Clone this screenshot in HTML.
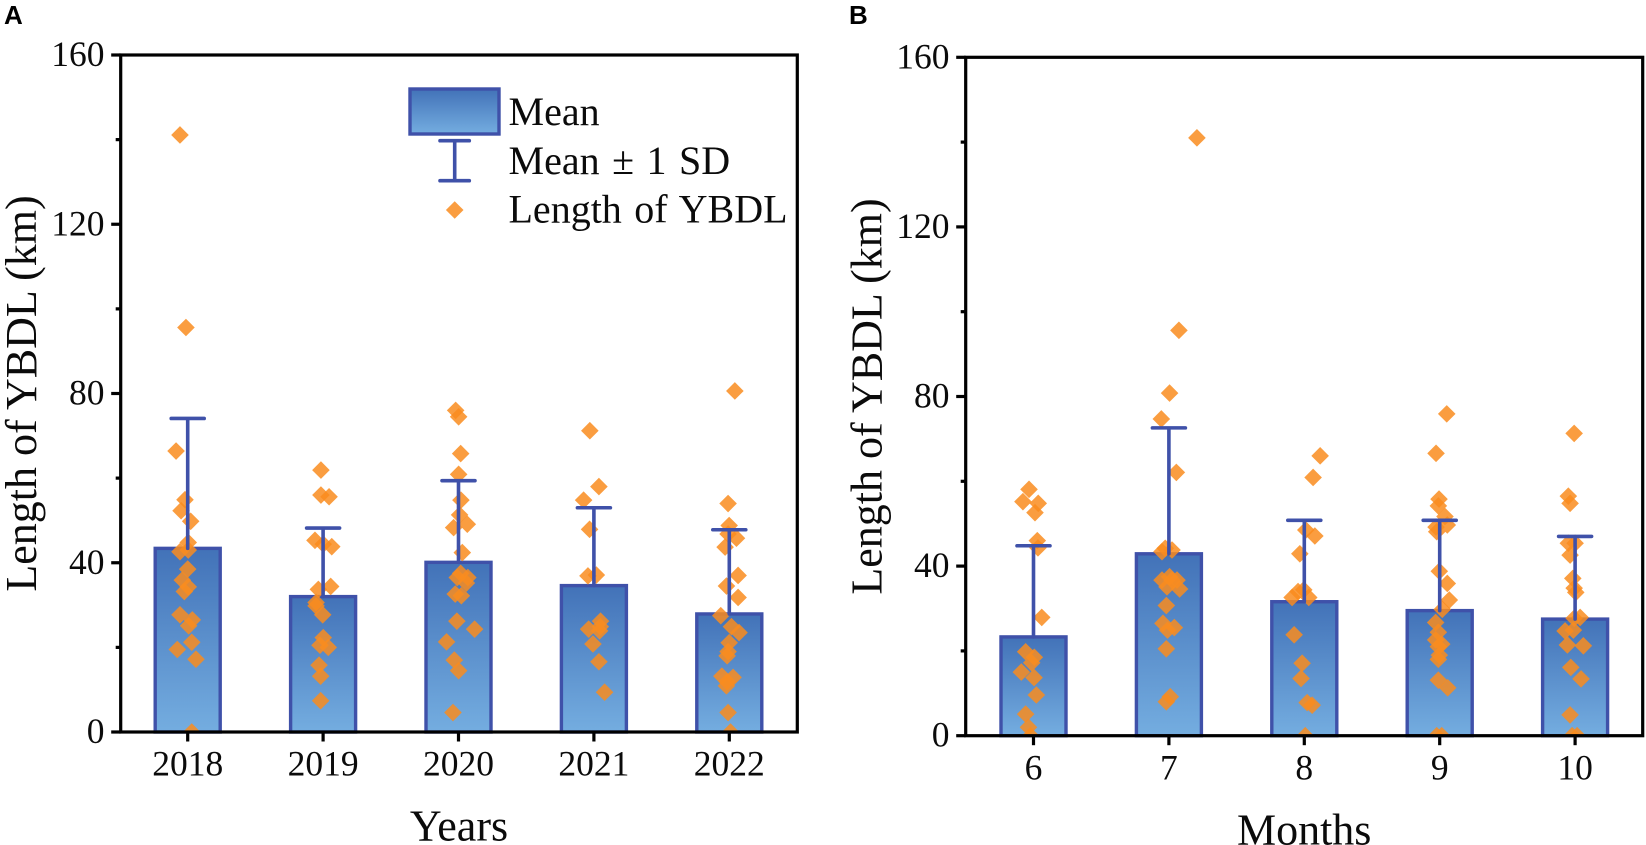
<!DOCTYPE html>
<html lang="en">
<head>
<meta charset="utf-8">
<title>Length of YBDL by year and month</title>
<style>
html,body{margin:0;padding:0;background:#fff;width:1646px;height:845px;overflow:hidden}
svg{display:block}
text{font-family:"Liberation Serif","Times New Roman",serif;fill:#0b0b0b}
.panel-letter{font-family:"Liberation Sans",Arial,sans-serif;font-weight:700;font-size:26px;fill:#000}
.tick{font-size:35.5px}
.title{font-size:44px}
.legend-text{font-size:40px;word-spacing:2.5px}
</style>
</head>
<body>
<svg id="chart" xmlns="http://www.w3.org/2000/svg" width="1646" height="845" viewBox="0 0 1646 845">
  <defs>
    <linearGradient id="barFill" x1="0" y1="0" x2="0" y2="1">
      <stop offset="0" stop-color="#4272b8"/>
      <stop offset="1" stop-color="#74ade0"/>
    </linearGradient>
    <clipPath id="clipA"><rect x="120.7" y="55" width="676.6" height="677"/></clipPath>
    <clipPath id="clipB"><rect x="965.7" y="57.3" width="677" height="678.4"/></clipPath>
  </defs>
  <text class="panel-letter" x="4" y="24">A</text>
  <text class="panel-letter" x="849" y="24">B</text>
  <g id="panelA"></g>
  <g id="panelB"></g>
  <g id="legend">
    <g>
      <rect x="410" y="89" width="89" height="45" fill="url(#barFill)" stroke="#3f51a9" stroke-width="3.4"/>
      <text class="legend-text" x="508.5" y="125">Mean</text>
    </g>
    <g>
      <path d="M440 140.7H469.3M454.7 140.7V180.7M440 180.7H469.3" fill="none" stroke="#3f51a9" stroke-width="3.6" stroke-linecap="round"/>
      <text class="legend-text" x="508.5" y="174">Mean ± 1 SD</text>
    </g>
    <g>
      <polygon points="454.7,201.2 463.5,210 454.7,218.8 445.9,210" fill="#f98c1f" fill-opacity="0.85"/>
      <text class="legend-text" x="508.5" y="222.7">Length of YBDL</text>
    </g>
  </g>
</svg>
<script>
const yTickLabels = [0, 40, 80, 120, 160];
const yMinorTicks = [20, 60, 100, 140];

const yearCategories = ['2018', '2019', '2020', '2021', '2022'];
const yearMeans = [43.4, 32.0, 40.1, 34.6, 27.9];
const yearUpperSD = [74.1, 48.2, 59.4, 53.0, 47.8];
const yearValues = [
  [141.1,95.6,66.4,54.9,52.3,49.8,44.8,42.6,43.0,38.5,35.9,34.3,33.2,27.7,26.5,25.1,21.2,19.5,17.2,0],
  [61.9,56.0,55.6,45.3,44.4,43.8,33.7,34.4,30.6,29.8,27.7,22.3,20.5,20.0,15.8,13.2,7.4],
  [76.0,74.5,65.8,60.9,54.8,51.3,49.1,48.3,42.4,37.5,36.5,36.5,35.2,32.6,32.2,26.2,24.3,21.3,17.0,14.5,4.6],
  [71.2,58.0,54.8,47.9,36.9,37.1,26.2,24.3,24.9,23.9,20.8,16.6,9.4],
  [80.6,54.0,48.8,46.8,45.8,43.7,37.0,34.5,31.8,27.5,24.9,23.5,21.1,19.0,18.0,13.2,12.9,11.9,10.9,4.6,0]
];
const yearJitter = [
  [-.057,-.013,-.086,-.02,-.049,.022,.004,-.057,.004,0,-.04,.004,-.025,-.057,.034,.007,.03,-.077,.061,.03],
  [-.016,-.016,.044,-.06,.001,.064,-.035,.056,-.052,-.052,-.003,.001,-.023,.038,-.03,-.018,-.018],
  [-.021,.001,.016,.001,.018,.008,.065,-.036,.028,.016,.069,-.009,.058,-.024,.021,-.012,.119,-.088,-.031,.001,-.041],
  [-.03,.037,-.076,-.032,-.044,.018,.049,-.039,.047,.042,-.007,.037,.079],
  [.041,-.009,-.001,-.009,.053,-.031,.065,-.021,.065,-.063,.016,.072,-.001,-.009,-.016,-.055,.028,-.016,-.021,-.009,.009]
];

const monthCategories = ['6', '7', '8', '9', '10'];
const monthMeans = [23.3, 42.9, 31.6, 29.5, 27.5];
const monthUpperSD = [44.8, 72.6, 50.8, 50.8, 47.0];
const monthValues = [
  [58.1,55.2,54.8,52.6,46.0,44.3,27.9,19.8,18.5,17.2,15.0,13.7,9.6,5.1,2.0,0],
  [141.0,95.6,80.8,74.7,62.1,43.4,44.2,43.8,36.7,37.5,36.7,35.1,36.7,34.6,30.7,26.5,25.5,24.9,20.5,9.2,8.0],
  [66.0,60.9,48.5,47.1,42.9,34.4,32.6,34.0,32.6,23.8,17.1,13.5,7.8,7.2,0],
  [75.9,66.6,55.8,54.2,51.7,49.7,49.2,48.1,38.8,35.9,32.0,29.8,26.7,24.4,22.6,21.6,21.0,19.0,18.0,13.1,11.3,0,0],
  [71.3,56.5,54.8,45.4,45.4,42.6,37.1,34.8,33.8,27.9,27.7,24.7,24.9,21.4,21.2,16.1,13.4,4.9,0,0]
];
const monthJitter = [
  [-.033,-.078,.035,.011,.028,.033,.061,-.058,.006,-.013,-.09,.004,.021,-.058,-.037,-.022],
  [.207,.074,.005,-.056,.055,-.051,-.027,.023,-.051,.005,.06,-.014,.023,.079,-.019,-.044,.04,-.01,-.019,.01,-.019],
  [.117,.065,.011,.078,-.033,-.004,-.09,-.046,.033,-.075,-.016,-.024,.021,.058,.007],
  [.052,-.027,-.005,-.01,.039,.056,-.027,-.022,-.003,.056,.071,.019,-.03,-.01,-.03,.015,-.01,-.003,-.01,-.01,.059,-.022,.015],
  [-.007,-.05,-.037,-.05,0,-.037,-.017,-.007,.005,.037,-.007,-.074,-.013,-.057,.061,-.032,.044,-.037,-.022,.015]
];

const SVGNS = 'http://www.w3.org/2000/svg';
function make(parent, tag, attrs, txt) {
  const el = document.createElementNS(SVGNS, tag);
  for (const k in attrs) el.setAttribute(k, attrs[k]);
  if (txt !== undefined) el.textContent = txt;
  parent.appendChild(el);
  return el;
}

function drawPanel(cfg) {
  const root = document.getElementById(cfg.id);
  const L = cfg.left, R = cfg.right, T = cfg.top, B = cfg.bottom;
  const yMax = 160;
  const yScale = v => B - (v / yMax) * (B - T);
  const step = cfg.step;
  const xScale = i => cfg.first + i * step;
  const INK = '#000';
  const BLUE = '#3f51a9';

  cfg.means.forEach((m, i) => {
    const bar = make(root, 'rect', {x: xScale(i) - 32.5, y: yScale(m), width: 65, height: B - yScale(m), fill: 'url(#barFill)', stroke: BLUE, 'stroke-width': 3.4});
    
    
  });

  const ptsGroup = make(root, 'g', {'clip-path': 'url(#' + cfg.clip + ')'});
  
  
  cfg.values.forEach((vals, i) => {
    vals.forEach((v, j) => {
      const cx = xScale(i + cfg.jitter[i][j]);
      const cy = yScale(v);
      const r = 8.8;
      const pt = make(ptsGroup, 'polygon', {points: `${cx},${cy - r} ${cx + r},${cy} ${cx},${cy + r} ${cx - r},${cy}`, fill: '#f98c1f', 'fill-opacity': 0.85});
      
      
    });
  });

  cfg.upper.forEach((u, i) => {
    const x = xScale(i);
    const err = make(root, 'path', {d: `M${x} ${yScale(cfg.means[i])}V${yScale(u)}M${x - 16.5} ${yScale(u)}H${x + 16.5}`, fill: 'none', stroke: BLUE, 'stroke-width': 3.6, 'stroke-linecap': 'round'});
    
    
  });

  const frame = make(root, 'rect', {x: L, y: T, width: R - L, height: B - T, fill: 'none', stroke: INK, 'stroke-width': 3.2});
  
  

  yTickLabels.forEach(v => {
    const y = yScale(v);
    const tick = make(root, 'line', {x1: L - 9.5, x2: L, y1: y, y2: y, stroke: INK, 'stroke-width': 3.2});
    
    
    const label = make(root, 'text', {class: 'tick', x: L - 16.2, y: y + 11, 'text-anchor': 'end'}, String(v));
    
    
  });
  yMinorTicks.forEach(v => {
    const y = yScale(v);
    const tick = make(root, 'line', {x1: L - 5, x2: L, y1: y, y2: y, stroke: INK, 'stroke-width': 3.2});
    
    
  });
  cfg.categories.forEach((c, i) => {
    const x = xScale(i);
    const tick = make(root, 'line', {x1: x, x2: x, y1: B, y2: B + 9.5, stroke: INK, 'stroke-width': 3.2});
    
    
    const label = make(root, 'text', {class: 'tick', x: x, y: B + 43.7, 'text-anchor': 'middle'}, c);
    
    
  });

  const yTitle = make(root, 'text', {class: 'title', transform: `translate(${cfg.yTitleX},${(T + B) / 2}) rotate(-90)`, 'text-anchor': 'middle'}, 'Length of YBDL (km)');
  
  
  const xTitle = make(root, 'text', {class: 'title', x: (L + R) / 2, y: B + 108.7, 'text-anchor': 'middle'}, cfg.xTitle);
  
  
}

drawPanel({id: 'panelA', clip: 'clipA', left: 120.7, right: 797.3, top: 55, bottom: 732, first: 187.7, step: 135.4, categories: yearCategories, means: yearMeans, upper: yearUpperSD, values: yearValues, jitter: yearJitter, yTitleX: 36, xTitle: 'Years'});
drawPanel({id: 'panelB', clip: 'clipB', left: 965.7, right: 1642.7, top: 57.3, bottom: 735.7, first: 1033.5, step: 135.4, categories: monthCategories, means: monthMeans, upper: monthUpperSD, values: monthValues, jitter: monthJitter, yTitleX: 881.7, xTitle: 'Months'});
</script>
</body>
</html>
